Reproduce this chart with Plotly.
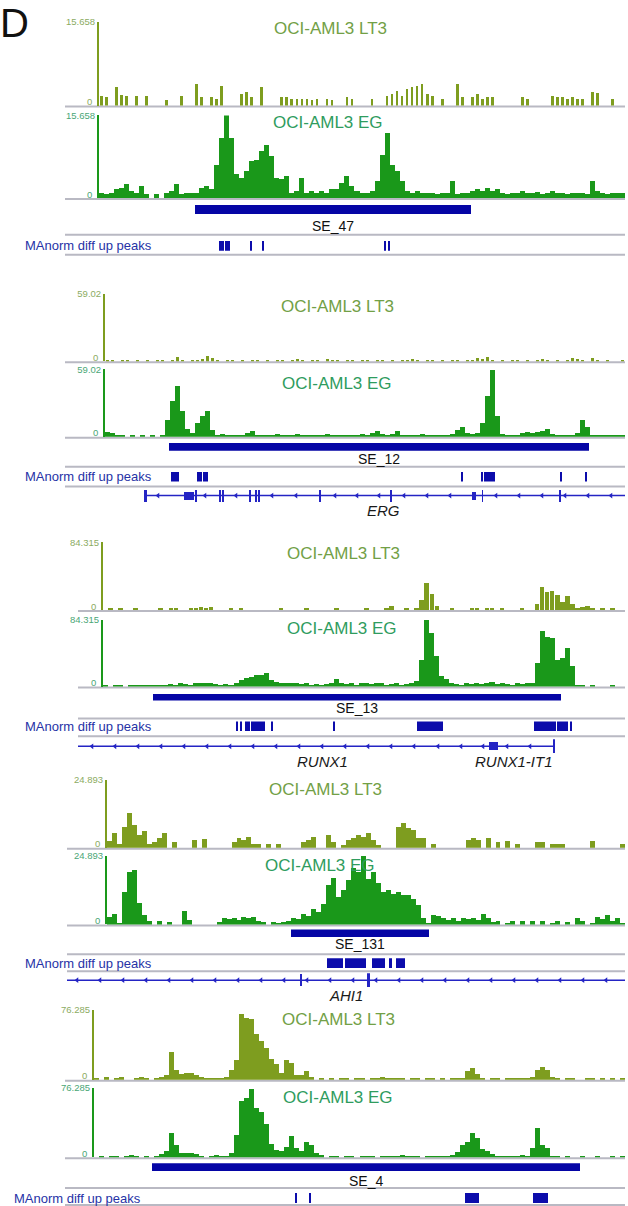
import numpy as np
import plotly.graph_objects as go

# ======================= DATA =======================
# Signal tracks: one value per equal-width bin across the visible window,
# expressed as % of the track's data-range maximum.
se47_lt3 = [12,10,0,22,13,12,0,12,0,12, 0,0,0,7,0,0,12,0,0,26,
            10,0,10,8,24,0,0,0,14,16, 10,0,22,0,0,0,10,10,8,8,
            8,8,7,8,0,8,7,0,0,10, 8,0,0,0,8,0,0,12,14,18,
            12,20,22,24,26,14,12,0,8,0, 0,26,10,0,10,14,8,10,10,0,
            0,0,0,0,10,8,0,0,0,0, 12,10,10,8,10,8,8,0,16,15,
            0,0,8,0,0]
se47_eg = [5,4,6,10,12,16,8,6,14,4, 0,4,0,5,8,16,4,6,5,6,
           12,14,10,40,72,100,72,28,24,32, 44,46,56,64,50,24,22,26,6,8,
           24,6,8,6,8,6,10,10,18,26, 14,8,6,6,8,20,52,78,40,32,
           20,8,6,8,6,6,6,4,5,6, 20,4,6,5,8,10,8,12,8,10,
           6,4,6,5,8,6,5,7,4,6, 8,5,6,4,6,5,6,4,20,8,
           5,4,6,5,6]
se12_lt3 = [3,2,0,2,3,0,2,0,3,0, 2,2,0,3,7,3,0,2,3,4, 8,6,3,0,2,3,0,2,0,3,
            2,0,3,0,2,3,0,2,4,3, 0,2,3,0,4,3,2,0,3,2, 0,3,2,0,2,3,0,2,0,3,
            2,4,3,0,2,3,0,2,0,3, 2,0,2,3,6,4,7,3,0,2, 0,3,2,0,2,0,3,4,3,0,
            2,0,3,5,4,2,0,6,3,0, 2,0,0,2]
se12_eg = [7,6,2,3,0,2,0,3,0,2, 0,2,25,53,75,38,12,5,20,31,
           38,10,3,4,2,3,2,3,5,8, 3,2,3,2,4,3,2,3,4,2,
           3,2,3,2,4,3,2,3,2,3, 2,4,3,5,8,4,3,4,8,3,
           2,3,2,4,2,3,2,3,2,4, 10,14,5,4,6,20,60,98,30,4,
           3,2,3,6,7,6,7,8,12,4, 3,2,3,2,5,24,14,3,2,3,
           2,3,2,2]
se13_lt3 = [0,2,0,2,0,0,2,0,0,0, 0,2,0,2,3,0,0,2,3,4, 3,4,0,0,0,2,0,2,0,0,
            0,0,0,0,0,2,0,0,0,0, 2,0,0,0,0,0,2,0,0,0, 0,0,2,0,0,0,3,5,0,0,
            2,0,3,15,40,23,6,0,0,2, 0,0,0,2,2,0,2,2,0,2, 0,0,0,2,0,0,8,33,26,28,
            22,11,20,8,3,4,5,2,0,3, 0,2,0,0]
se13_eg = [2,0,3,2,0,2,3,2,3,3, 2,3,2,4,3,5,4,3,5,6, 5,6,4,3,4,3,5,10,13,14,
           17,18,21,10,7,6,6,5,6,4, 5,3,4,3,4,5,12,5,4,5, 3,5,6,4,5,6,3,4,6,3,
           4,5,8,40,100,80,46,16,12,5, 4,3,5,4,5,4,6,7,4,5, 4,3,5,4,5,6,36,83,75,73,
           40,43,58,31,3,2,0,2,0,0, 0,3,0,0]
se131_lt3 = [10,21,6,31,51,33,19,25,6,8, 14,21,0,8,0,0,0,11,0,13,
             0,0,0,0,0,9,14,11,16,6, 6,0,6,0,6,0,0,0,0,9,
             11,16,0,0,18,9,0,4,11,14, 19,16,21,11,4,0,0,0,30,36,
             29,26,14,14,0,6,0,0,0,0, 0,0,11,14,11,0,15,0,9,0,
             10,0,5,0,0,0,8,8,0,5, 5,5,0,0,0,0,0,10,0,0,
             0,0,0,5]
se131_eg = [11,15,2,48,77,80,31,14,5,0, 5,0,4,0,0,20,7,0,0,0,
            0,0,4,9,8,9,7,11,10,11, 6,4,0,4,3,4,6,9,8,16,
            12,23,19,30,58,68,40,50,65,82, 77,100,67,77,60,48,50,45,48,43,
            43,38,28,9,3,14,12,9,7,9, 6,9,8,10,7,16,9,4,6,0,
            3,6,0,5,0,6,0,5,0,3, 6,0,4,0,9,5,0,3,11,8,
            14,6,9,3]
se4_lt3 = [2,0,4,0,3,4,0,0,3,4, 3,0,2,4,6,39,14,8,10,9,
           6,4,3,3,2,3,4,14,28,94, 88,87,66,56,46,30,22,10,28,24,
           7,6,13,4,0,3,0,2,0,3, 2,0,3,2,0,3,2,4,3,2,
           3,2,0,2,3,0,2,3,0,2, 0,3,2,3,12,17,8,2,0,2,
           3,0,2,3,2,3,2,4,14,18, 14,4,2,0,2,3,0,0,2,3,
           0,2,0,3,0,3]
se4_eg = [0,2,0,3,2,0,3,4,2,0, 2,0,3,5,9,35,18,6,7,6,
          5,3,0,3,4,2,3,6,33,82, 86,99,72,65,48,20,11,10,15,31,
          14,10,23,18,6,4,0,2,3,0, 2,3,0,2,3,2,0,3,2,3,
          2,4,2,3,2,0,3,2,3,2, 3,4,8,18,22,35,28,12,9,5,
          3,2,3,2,3,4,3,14,43,18, 14,3,2,0,2,0,0,3,0,0,
          2,0,0,2,0,3]

track_max = [15.658, 59.02, 84.315, 24.893, 76.285]
track_max_text = ["15.658", "59.02", "84.315", "24.893", "76.285"]
se_names = ["SE_47", "SE_12", "SE_13", "SE_131", "SE_4"]

# feature positions in browser-view units (0..628 across the window)
se_spans = [(195, 471), (169, 589), (153, 561), (291, 429), (152, 580)]
peaks_se47 = [(219, 224), (225, 230), (250, 251.5), (262, 264), (384, 385.5), (388, 389.5)]
peaks_se12 = [(171, 179), (197, 202), (203, 208), (461.5, 463), (481.5, 483), (484, 495),
              (560.5, 562), (584.5, 586.5)]
peaks_se13 = [(236.5, 238), (240.5, 242), (244.5, 250), (251, 265), (271.5, 273), (333, 334.5),
              (417, 443), (534, 556), (557, 568), (570, 572)]
peaks_se131 = [(327, 343), (345, 366), (372, 385), (388.5, 391.5), (396, 405)]
peaks_se4 = [(295, 297), (309, 311), (465, 479), (533, 548)]

# genes: span, exons (start, end, kind), strand-arrow positions, labels
erg_span = (145, 625)
erg_exons = [(144, 146.5, "tall"), (184, 194, "box"), (195, 196.5, "tall"), (219, 220.5, "tall"),
             (222, 223.5, "tall"), (249, 250.5, "tall"), (255, 256.5, "tall"), (258, 259.5, "tall"),
             (319.5, 321, "tall"), (390.5, 392, "tall"), (472, 476, "box"), (482, 483, "tall"),
             (559.5, 561, "tall")]
erg_arrows = [158, 205, 236, 272, 296, 335, 357, 379, 404, 427, 450, 496, 519, 542, 565, 588, 611]
erg_labels = [("ERG", 383)]

runx1_span = (78, 554)
runx1_exons = [(489, 498, "box"), (553, 555, "end")]
runx1_arrows = [92, 115, 138, 161, 184, 207, 230, 253, 276, 299, 322, 345, 368, 391, 414,
                438, 461, 483, 507, 530]
runx1_labels = [("RUNX1", 322), ("RUNX1-IT1", 514)]

ahi1_span = (67, 625)
ahi1_exons = [(300, 301.5, "tall"), (367, 369.5, "end")]
ahi1_arrows = [77, 100, 123, 146, 169, 192, 215, 238, 261, 284, 307, 330, 353, 376, 399, 422,
               445, 468, 491, 514, 537, 560, 583, 606]
ahi1_labels = [("AHI1", 346)]

lt3_tracks = [se47_lt3, se12_lt3, se13_lt3, se131_lt3, se4_lt3]
eg_tracks = [se47_eg, se12_eg, se13_eg, se131_eg, se4_eg]
peak_sets = [peaks_se47, peaks_se12, peaks_se13, peaks_se131, peaks_se4]
genes = [None,
         (erg_span, erg_exons, erg_arrows, erg_labels),
         (runx1_span, runx1_exons, runx1_arrows, runx1_labels),
         (ahi1_span, ahi1_exons, ahi1_arrows, ahi1_labels),
         None]

# ======================= LAYOUT GEOMETRY (pixels) =======================
W, H = 628, 1206
VIEW_END = 625
geom = [
    dict(x0=65, ax=98, lt3=(16, 100), eg=(110, 193), se=(200, 209), se_lab=221, pk=(236, 246),
         pk_lab=(23, 241), gene=None, gene_lab=None, lines=[101, 194, 230, 250],
         t_lt3=(330, 23), t_eg=(328, 117), bw=(0.55, 1.0)),
    dict(x0=65, ax=104, lt3=(289, 357), eg=(365, 433), se=(439, 447), se_lab=455, pk=(468, 478),
         pk_lab=(23, 473), gene=(485, 499), gene_lab=507, lines=[358, 434, 463, 483],
         t_lt3=(337, 302), t_eg=(337, 379), bw=(0.6, 1.0)),
    dict(x0=78, ax=102, lt3=(539, 607), eg=(617, 684), se=(691, 698), se_lab=706, pk=(719, 729),
         pk_lab=(23, 724), gene=(737, 751), gene_lab=759, lines=[608, 685, 716, 734],
         t_lt3=(343, 550), t_eg=(342, 626), bw=(0.9, 1.0)),
    dict(x0=67, ax=106, lt3=(778, 846), eg=(854, 923), se=(928, 936), se_lab=943, pk=(957, 967),
         pk_lab=(23, 962), gene=(972, 986), gene_lab=994, lines=[847, 924, 953, 970],
         t_lt3=(325, 787), t_eg=(320, 864), bw=(1.0, 1.0)),
    dict(x0=65, ax=93, lt3=(1009, 1079), eg=(1087, 1157), se=(1163, 1171), se_lab=1181,
         pk=(1193, 1203), pk_lab=(12, 1198), gene=None, gene_lab=None,
         lines=[1080, 1158, 1188, 1205], t_lt3=(338, 1019), t_eg=(338, 1097), bw=(1.0, 1.0)),
]

FONT = "Liberation Sans, Arial, Helvetica, sans-serif"
LT3_BAR = "#7e9d1f"
EG_BAR = "#1a981a"
LT3_TXT = "#72a046"
EG_TXT = "#2f9c5e"
LT3_TICK = "#8bab62"
EG_TICK = "#4aa676"
SE_BLUE = "#0505a5"
PEAK_BLUE = "#0c0cab"
GENE_BLUE = "#2424c4"
LABEL_BLUE = "#2632a6"
GRAY = "#b9b9c3"


def fy(p):
    return 1 - p / H


def fx(p):
    return p / W


fig = go.Figure()
layout = dict(
    width=W, height=H, margin=dict(l=0, r=0, t=0, b=0), autosize=False,
    paper_bgcolor="white", plot_bgcolor="white", showlegend=False,
    barmode="overlay", bargap=0,
    xaxis=dict(range=[0, W], domain=[0, 1], visible=False, fixedrange=True, anchor="y"),
)
annotations = []
shapes = []
counter = [0]


def new_yaxis(spec):
    counter[0] += 1
    k = counter[0]
    name = "y" if k == 1 else f"y{k}"
    key = "yaxis" if k == 1 else f"yaxis{k}"
    layout[key] = spec
    return name


def add_text(text, x, y, size, color, xanchor="center", italic=False):
    annotations.append(dict(
        text=f"<i>{text}</i>" if italic else text, x=fx(x), y=fy(y), xref="paper", yref="paper",
        xanchor=xanchor, yanchor="middle", showarrow=False,
        font=dict(family=FONT, size=size, color=color)))


for i, g in enumerate(geom):
    mx = track_max[i]
    # --- two signal tracks ---
    for vals, (top, base), bar_c, tick_c, wf in [
        (lt3_tracks[i], g["lt3"], LT3_BAR, LT3_TICK, g["bw"][0]),
        (eg_tracks[i], g["eg"], EG_BAR, EG_TICK, g["bw"][1]),
    ]:
        yname = new_yaxis(dict(
            domain=[fy(base), fy(top)], range=[0, mx], anchor="free", position=fx(g["ax"]),
            showline=True, linecolor=bar_c, linewidth=2, ticks="inside", ticklen=4,
            tickwidth=2, tickcolor=bar_c, tickvals=[0, mx], ticktext=["", track_max_text[i]],
            tickfont=dict(family=FONT, size=9.5, color=tick_c), showgrid=False, zeroline=False,
            fixedrange=True))
        # zero label sits just above the baseline, as in the browser view
        annotations.append(dict(
            text="0", x=fx(g["ax"] - 4), y=fy(base - 4), xref="paper", yref="paper",
            xanchor="right", yanchor="middle", showarrow=False,
            font=dict(family=FONT, size=9.5, color=tick_c)))
        n = len(vals)
        start = g["ax"] + 1
        step = (VIEW_END - start) / n
        centers = start + step * (np.arange(n) + 0.5)
        fig.add_trace(go.Bar(
            x=centers, y=np.array(vals, dtype=float) / 100.0 * mx, width=step * wf,
            marker=dict(color=bar_c, line=dict(width=0)), xaxis="x", yaxis=yname,
            hoverinfo="skip"))
    # --- super-enhancer row ---
    s0, s1 = se_spans[i]
    yname = new_yaxis(dict(domain=[fy(g["se"][1]), fy(g["se"][0])], range=[0, 1],
                           visible=False, fixedrange=True, anchor="x"))
    fig.add_trace(go.Bar(orientation="h", y=[0.5], x=[s1 - s0], base=[s0], width=[1.0],
                         marker=dict(color=SE_BLUE, line=dict(width=0)),
                         xaxis="x", yaxis=yname, hoverinfo="skip"))
    add_text(se_names[i], (s0 + s1) / 2, g["se_lab"], 14, "#111111")
    # --- MAnorm peaks row ---
    pk = peak_sets[i]
    yname = new_yaxis(dict(domain=[fy(g["pk"][1]), fy(g["pk"][0])], range=[0, 1],
                           visible=False, fixedrange=True, anchor="x"))
    fig.add_trace(go.Bar(orientation="h", y=[0.5] * len(pk), x=[b - a for a, b in pk],
                         base=[a for a, b in pk], width=[1.0] * len(pk),
                         marker=dict(color=PEAK_BLUE, line=dict(width=0)),
                         xaxis="x", yaxis=yname, hoverinfo="skip"))
    add_text("MAnorm diff up peaks", g["pk_lab"][0], g["pk_lab"][1], 13, LABEL_BLUE,
             xanchor="left")
    # --- gene row ---
    if genes[i] is not None:
        span, exons, arrows, labels = genes[i]
        yname = new_yaxis(dict(domain=[fy(g["gene"][1]), fy(g["gene"][0])], range=[0, 1],
                               visible=False, fixedrange=True, anchor="x"))
        fig.add_trace(go.Scatter(x=list(span), y=[0.5, 0.5], mode="lines",
                                 line=dict(color=GENE_BLUE, width=1.5),
                                 xaxis="x", yaxis=yname, hoverinfo="skip"))
        fig.add_trace(go.Scatter(x=arrows, y=[0.5] * len(arrows), mode="markers",
                                 marker=dict(symbol="triangle-left", size=5, color=GENE_BLUE),
                                 xaxis="x", yaxis=yname, hoverinfo="skip"))
        heights = {"tall": 0.8, "box": 0.6, "end": 1.0}
        fig.add_trace(go.Bar(orientation="h", y=[0.5] * len(exons),
                             x=[b - a for a, b, k in exons], base=[a for a, b, k in exons],
                             width=[heights[k] for a, b, k in exons],
                             marker=dict(color=GENE_BLUE, line=dict(width=0)),
                             xaxis="x", yaxis=yname, hoverinfo="skip"))
        for txt, lx in labels:
            add_text(txt, lx, g["gene_lab"], 15, "#1a1a1a", italic=True)
    # --- track titles ---
    add_text("OCI-AML3 LT3", g["t_lt3"][0], g["t_lt3"][1], 17, LT3_TXT)
    add_text("OCI-AML3 EG", g["t_eg"][0], g["t_eg"][1], 17, EG_TXT)
    # --- separator lines ---
    for ly in g["lines"]:
        shapes.append(dict(type="line", xref="paper", yref="paper", x0=fx(g["x0"]),
                           x1=fx(VIEW_END), y0=fy(ly), y1=fy(ly), layer="below",
                           line=dict(color=GRAY, width=2)))

# panel letter
annotations.append(dict(text="D", x=fx(-2), y=fy(17), xref="paper", yref="paper",
                        xanchor="left", yanchor="middle", showarrow=False,
                        font=dict(family=FONT, size=40, color="#111111")))

layout["annotations"] = annotations
layout["shapes"] = shapes
fig.update_layout(**layout)
fig.write_html("out.html", config={"displayModeBar": False})
